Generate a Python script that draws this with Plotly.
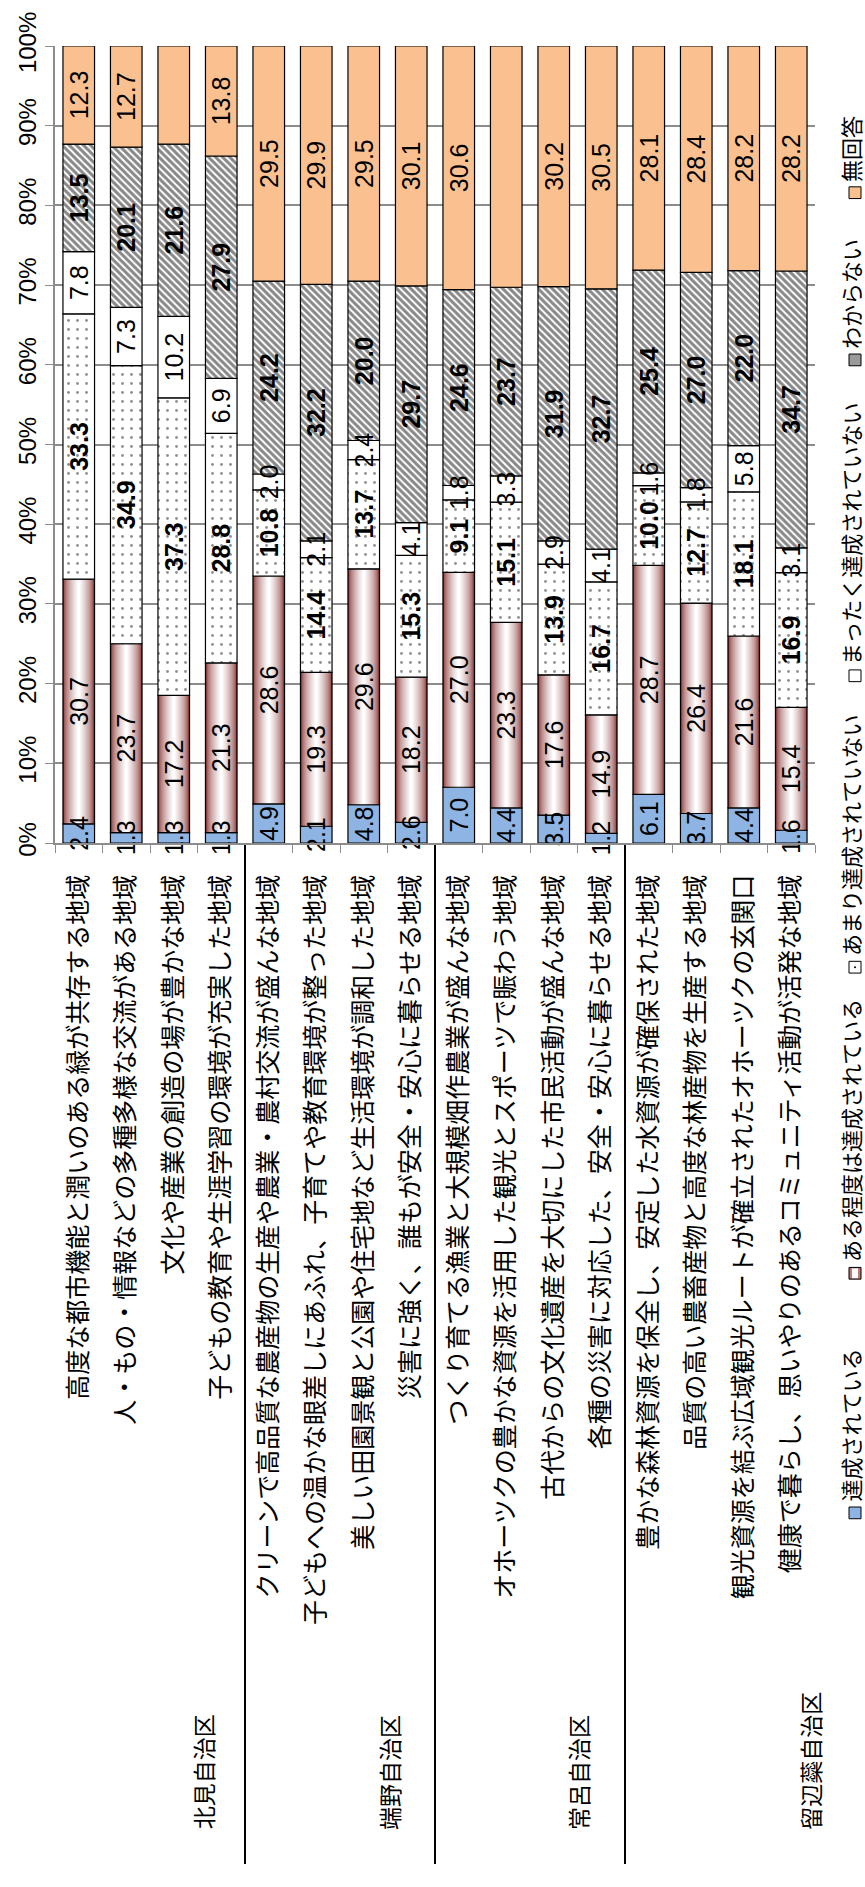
import numpy as np
import plotly.graph_objects as go

# ---------------- data ----------------
categories = [
    "高度な都市機能と潤いのある緑が共存する地域",
    "人・もの・情報などの多種多様な交流がある地域",
    "文化や産業の創造の場が豊かな地域",
    "子どもの教育や生涯学習の環境が充実した地域",
    "クリーンで高品質な農産物の生産や農業・農村交流が盛んな地域",
    "子どもへの温かな眼差しにあふれ、子育てや教育環境が整った地域",
    "美しい田園景観と公園や住宅地など生活環境が調和した地域",
    "災害に強く、誰もが安全・安心に暮らせる地域",
    "つくり育てる漁業と大規模畑作農業が盛んな地域",
    "オホーツクの豊かな資源を活用した観光とスポーツで賑わう地域",
    "古代からの文化遺産を大切にした市民活動が盛んな地域",
    "各種の災害に対応した、安全・安心に暮らせる地域",
    "豊かな森林資源を保全し、安定した水資源が確保された地域",
    "品質の高い農畜産物と高度な林産物を生産する地域",
    "観光資源を結ぶ広域観光ルートが確立されたオホーツクの玄関口",
    "健康で暮らし、思いやりのあるコミュニティ活動が活発な地域",
]
groups = ["北見自治区", "端野自治区", "常呂自治区", "留辺蘂自治区"]
group_sizes = [4, 4, 4, 4]

series_names = ["達成されている", "ある程度は達成されている", "あまり達成されていない",
                "まったく達成されていない", "わからない", "無回答"]
achieved = [2.4, 1.3, 1.3, 1.3, 4.9, 2.1, 4.8, 2.6, 7.0, 4.4, 3.5, 1.2, 6.1, 3.7, 4.4, 1.6]
somewhat = [30.7, 23.7, 17.2, 21.3, 28.6, 19.3, 29.6, 18.2, 27.0, 23.3, 17.6, 14.9, 28.7, 26.4, 21.6, 15.4]
not_much = [33.3, 34.9, 37.3, 28.8, 10.8, 14.4, 13.7, 15.3, 9.1, 15.1, 13.9, 16.7, 10.0, 12.7, 18.1, 16.9]
not_at_all = [7.8, 7.3, 10.2, 6.9, 2.0, 2.1, 2.4, 4.1, 1.8, 3.3, 2.9, 4.1, 1.6, 1.8, 5.8, 3.1]
unknown = [13.5, 20.1, 21.6, 27.9, 24.2, 32.2, 20.0, 29.7, 24.6, 23.7, 31.9, 32.7, 25.4, 27.0, 22.0, 34.7]
no_answer = [12.3, 12.7, 12.3, 13.8, 29.5, 29.9, 29.5, 30.1, 30.6, 30.3, 30.2, 30.5, 28.1, 28.4, 28.2, 28.2]

series_values = [achieved, somewhat, not_much, not_at_all, unknown, no_answer]

# ---------------- layout helpers ----------------
W, H = 865, 1887
L, R, T, B = 55, 815, 28, 843


def px2x(px):
    return (px - L) / (R - L)


def px2y(py):
    return (B - py) / (B - T)


BAR_W = 0.665
FONT_JP = "Noto Sans CJK JP"
FONT_NUM = "Liberation Sans, Noto Sans CJK JP"
ROT_SHIFT = -2   # small horizontal correction for rotated annotations (px)

vals = np.array(series_values, dtype=float)          # 6 x 16
totals = vals.sum(axis=0)
norm = vals / totals * 100.0                          # 100% stacked
bases = np.vstack([np.zeros(len(categories)), np.cumsum(norm, axis=0)[:-1]])

fig = go.Figure()
x = categories

blue = "#8DB4E2"
orange = "#FAC090"
dark_maroon = np.array([130, 40, 40])
white = np.array([255, 255, 255])

# series 0 : blue
fig.add_trace(go.Bar(x=x, y=norm[0], base=bases[0], width=BAR_W,
                     marker=dict(color=blue, line=dict(color="black", width=1.2)),
                     hoverinfo="skip"))

# series 1 : cylinder gradient maroon -> white (layered bars)
N = 14
for k in range(N):
    t = (k / (N - 1)) ** 0.55
    c = (dark_maroon + (white - dark_maroon) * t).astype(int)
    fig.add_trace(go.Bar(x=x, y=norm[1], base=bases[1], width=BAR_W * (1 - k / N),
                         marker=dict(color=f"rgb({c[0]},{c[1]},{c[2]})", line=dict(width=0)),
                         hoverinfo="skip"))
fig.add_trace(go.Bar(x=x, y=norm[1], base=bases[1], width=BAR_W,
                     marker=dict(color="rgba(0,0,0,0)", line=dict(color="black", width=1.2)),
                     hoverinfo="skip"))

# series 2 : dotted
fig.add_trace(go.Bar(x=x, y=norm[2], base=bases[2], width=BAR_W,
                     marker=dict(color="white", line=dict(color="black", width=1.2),
                                 pattern=dict(shape=".", fgcolor="#222222", bgcolor="white",
                                              size=9, solidity=0.08)),
                     hoverinfo="skip"))
# series 3 : white
fig.add_trace(go.Bar(x=x, y=norm[3], base=bases[3], width=BAR_W,
                     marker=dict(color="white", line=dict(color="black", width=1.2)),
                     hoverinfo="skip"))
# series 4 : hatched
fig.add_trace(go.Bar(x=x, y=norm[4], base=bases[4], width=BAR_W,
                     marker=dict(color="white", line=dict(color="black", width=1.2),
                                 pattern=dict(shape="\\", fgcolor="#111111", bgcolor="white",
                                              size=5, solidity=0.6)),
                     hoverinfo="skip"))
# series 5 : orange
fig.add_trace(go.Bar(x=x, y=norm[5], base=bases[5], width=BAR_W,
                     marker=dict(color=orange, line=dict(color="black", width=1.2)),
                     hoverinfo="skip"))

# data labels on top
bold_series = [False, False, True, False, True, False]
for i in range(6):
    txt = [f"{v:.1f}" for v in vals[i]]
    if bold_series[i]:
        txt = [f"<b>{t}</b>" for t in txt]
    fig.add_trace(go.Bar(x=x, y=norm[i], base=bases[i], width=BAR_W,
                         marker=dict(color="rgba(0,0,0,0)", line=dict(width=0)),
                         text=txt, textposition="inside", insidetextanchor="middle",
                         textangle=-90, constraintext="none", cliponaxis=False,
                         textfont=dict(family=FONT_NUM, size=25, color="black"),
                         hoverinfo="skip"))

shapes = []
annotations = []

# group separators and labels
bounds = np.cumsum(group_sizes)
for b in bounds[:-1]:
    shapes.append(dict(type="line", xref="x", yref="paper", x0=b - 0.5, x1=b - 0.5,
                       y0=px2y(845), y1=px2y(1887), line=dict(color="black", width=2)))
group_label_offsets = [3.16, 3.07, 3.05, 3.94]
cat_w = (R - L) / len(categories)
starts = np.concatenate([[0], bounds[:-1]])
for g, s, off in zip(groups, starts, group_label_offsets):
    annotations.append(dict(text=g, x=s - 0.5 + off + ROT_SHIFT / cat_w, xref="x",
                            y=px2y(1854), yref="paper",
                            xanchor="center", yanchor="bottom", textangle=-90, showarrow=False,
                            font=dict(family=FONT_JP, size=23, color="black")))

# legend (rotated)
legend_cy = [1528, 1283, 970, 672, 349, 178]
swatch_fill = [blue, "rgb(190,120,120)", "white", "white", "#9a9a9a", orange]
for name, cy, fc in zip(series_names, legend_cy, swatch_fill):
    shapes.append(dict(type="rect", xref="paper", yref="paper",
                       x0=px2x(849), x1=px2x(861), y0=px2y(cy + 6), y1=px2y(cy - 6),
                       fillcolor=fc, line=dict(color="black", width=1)))
    annotations.append(dict(text=name, x=px2x(852 + ROT_SHIFT), xref="paper",
                            y=px2y(cy - 9), yref="paper",
                            xanchor="center", yanchor="bottom", textangle=-90, showarrow=False,
                            font=dict(family=FONT_JP, size=22, color="black")))
# swatch decorations
shapes.append(dict(type="rect", xref="paper", yref="paper",
                   x0=px2x(852), x1=px2x(858), y0=px2y(legend_cy[1] + 5), y1=px2y(legend_cy[1] - 5),
                   fillcolor="white", line=dict(width=0)))
shapes.append(dict(type="circle", xref="paper", yref="paper",
                   x0=px2x(854), x1=px2x(856), y0=px2y(legend_cy[2] + 1), y1=px2y(legend_cy[2] - 1),
                   fillcolor="black", line=dict(width=0)))

fig.update_layout(
    width=W, height=H,
    margin=dict(l=L, r=W - R, t=T, b=H - B, pad=0),
    barmode="overlay", bargap=0.335,
    showlegend=False,
    plot_bgcolor="white", paper_bgcolor="white",
    font=dict(family=FONT_JP, color="black"),
    shapes=shapes, annotations=annotations,
    xaxis=dict(type="category", range=[-0.5, len(categories) - 0.5],
               tickangle=-90, tickfont=dict(family=FONT_JP, size=25, color="black"),
               ticks="outside", tickson="boundaries", ticklen=8, tickcolor="#8c8c8c",
               showline=True, linecolor="#8c8c8c", linewidth=1.5, showgrid=False,
               ticklabelstandoff=20, fixedrange=True),
    yaxis=dict(range=[0, 100], dtick=10, ticksuffix="%", tickangle=-90,
               tickfont=dict(family=FONT_NUM, size=24, color="black"),
               ticks="outside", ticklen=8, tickcolor="#8c8c8c",
               showline=True, linecolor="#8c8c8c", linewidth=1.5,
               showgrid=True, gridcolor="#8c8c8c", gridwidth=1.5, zeroline=False,
               ticklabeloverflow="allow", fixedrange=True),
)

fig.write_html("out.html", config={"displayModeBar": False},
               post_script="document.body.style.margin='0px';document.body.style.overflow='hidden';")
